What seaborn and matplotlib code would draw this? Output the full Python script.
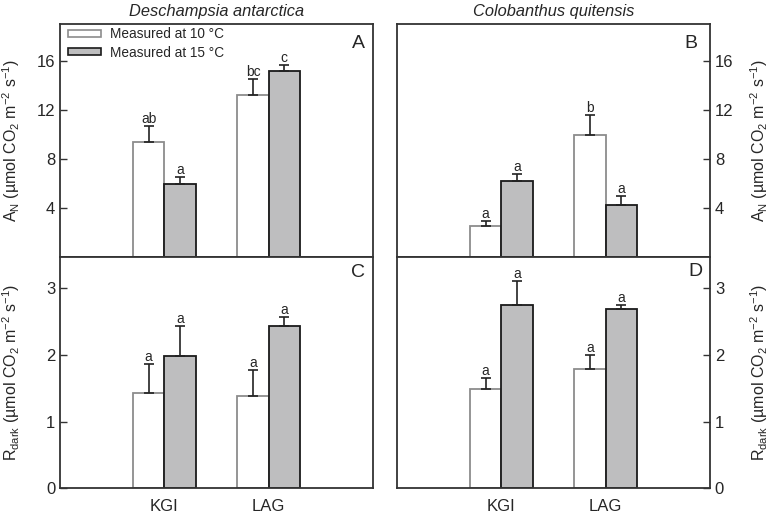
import numpy as np
import pandas as pd
import matplotlib
matplotlib.use("Agg")
import matplotlib.pyplot as plt
import seaborn as sns
from matplotlib.patches import Patch

sns.set_style("ticks")
plt.rcParams['font.family'] = ['Liberation Sans', 'DejaVu Sans']
plt.rcParams['mathtext.fontset'] = 'custom'
plt.rcParams['mathtext.rm'] = 'Liberation Sans'
plt.rcParams['mathtext.it'] = 'Liberation Sans:italic'

sites = ["KGI", "LAG"]
temps = ["Measured at 10 °C", "Measured at 15 °C"]

# net photosynthesis, Deschampsia antarctica
da_an_10 = [9.33, 13.2]
da_an_10_se = [1.31, 1.35]
da_an_15 = [5.93, 15.15]
da_an_15_se = [0.57, 0.49]
da_an_letters_10 = ["ab", "bc"]
da_an_letters_15 = ["a", "c"]

# net photosynthesis, Colobanthus quitensis
cq_an_10 = [2.5, 9.93]
cq_an_10_se = [0.44, 1.67]
cq_an_15 = [6.15, 4.19]
cq_an_15_se = [0.63, 0.73]
cq_an_letters_10 = ["a", "b"]
cq_an_letters_15 = ["a", "a"]

# dark respiration, Deschampsia antarctica
da_rd_10 = [1.435, 1.39]
da_rd_10_se = [0.43, 0.385]
da_rd_15 = [1.975, 2.425]
da_rd_15_se = [0.46, 0.145]
da_rd_letters_10 = ["a", "a"]
da_rd_letters_15 = ["a", "a"]

# dark respiration, Colobanthus quitensis
cq_rd_10 = [1.485, 1.79]
cq_rd_10_se = [0.165, 0.21]
cq_rd_15 = [2.74, 2.685]
cq_rd_15_se = [0.37, 0.065]
cq_rd_letters_10 = ["a", "a"]
cq_rd_letters_15 = ["a", "a"]

an_label = r"A$_\mathrm{N}$ (µmol CO$_2$ m$^{-2}$ s$^{-1}$)"
rd_label = r"R$_\mathrm{dark}$ (µmol CO$_2$ m$^{-2}$ s$^{-1}$)"

fill = {temps[0]: "white", temps[1]: "#bebebf"}
edges = ["#8c8c8c", "#1a1a1a"]
spine_col = "#333333"


def make_df(v10, s10, l10, v15, s15, l15):
    rows = []
    for i, s in enumerate(sites):
        rows.append((s, temps[0], v10[i], s10[i], l10[i]))
    for i, s in enumerate(sites):
        rows.append((s, temps[1], v15[i], s15[i], l15[i]))
    return pd.DataFrame(rows, columns=["site", "temp", "value", "se", "letter"])


panels = [
    (make_df(da_an_10, da_an_10_se, da_an_letters_10, da_an_15, da_an_15_se, da_an_letters_15),
     "A", "left", "top"),
    (make_df(cq_an_10, cq_an_10_se, cq_an_letters_10, cq_an_15, cq_an_15_se, cq_an_letters_15),
     "B", "right", "top"),
    (make_df(da_rd_10, da_rd_10_se, da_rd_letters_10, da_rd_15, da_rd_15_se, da_rd_letters_15),
     "C", "left", "bottom"),
    (make_df(cq_rd_10, cq_rd_10_se, cq_rd_letters_10, cq_rd_15, cq_rd_15_se, cq_rd_letters_15),
     "D", "right", "bottom"),
]

fig = plt.figure(figsize=(7.71, 5.13), dpi=100)

W, H = 771, 513
xpos = {"left": 60 / W, "right": 397 / W}
ypos = {"top": (1 - 256.7 / H, 232.7 / H), "bottom": (1 - 488.3 / H, 231.6 / H)}
letter_pos = {"A": (0.952, 0.918), "B": (0.94, 0.918), "C": (0.952, 0.93), "D": (0.952, 0.938)}

for df, tag, side, row in panels:
    ax = fig.add_axes([xpos[side], ypos[row][0], 313 / W, ypos[row][1]])
    sns.barplot(data=df, x="site", y="value", hue="temp", order=sites, hue_order=temps,
                palette=fill, saturation=1, width=0.6, errorbar=None, legend=False,
                linewidth=1.3, ax=ax)
    bar_conts = list(ax.containers)
    for i, cont in enumerate(bar_conts):
        sub = df[df["temp"] == temps[i]].set_index("site").loc[sites]
        for bar, (_, r) in zip(cont, sub.iterrows()):
            bar.set_edgecolor(edges[i])
            cx = bar.get_x() + bar.get_width() / 2
            top = bar.get_height()
            ax.errorbar(cx, top, yerr=[[0], [r["se"]]], fmt="none", ecolor="#222222",
                        elinewidth=1.2, capsize=3.5, capthick=1.2, zorder=1)
            ax.text(cx, top + r["se"], r["letter"], ha="center", va="bottom", fontsize=10)

    ax.set_xlim(-1, 2)
    if row == "top":
        ax.set_ylim(0, 19)
        ax.set_yticks([4, 8, 12, 16])
        ax.set_xticklabels([])
        ylab = an_label
    else:
        ax.set_ylim(0, 3.47)
        ax.set_yticks([0, 1, 2, 3])
        ylab = rd_label
    ax.set_xlabel("")
    ax.set_ylabel(ylab, fontsize=11.5)
    ax.tick_params(axis="x", length=0, pad=8, labelsize=12)
    ax.tick_params(axis="y", direction="in", length=5, width=1, color=spine_col,
                   labelsize=12, pad=3.5)
    if side == "right":
        ax.yaxis.tick_right()
        ax.yaxis.set_label_position("right")
        ax.yaxis.set_label_coords(1.122, 0.5)
    else:
        ax.yaxis.set_label_coords(-0.122, 0.5)
    for sp in ax.spines.values():
        sp.set_visible(True)
        sp.set_color(spine_col)
        sp.set_linewidth(1.3)
    ax.text(*letter_pos[tag], tag, transform=ax.transAxes, ha="center", va="center",
            fontsize=14)

    if tag == "A":
        ax.set_title("Deschampsia antarctica", style="italic", fontsize=11.8, pad=6)
        handles = [Patch(facecolor=fill[temps[0]], edgecolor=edges[0], linewidth=1.2),
                   Patch(facecolor=fill[temps[1]], edgecolor=edges[1], linewidth=1.2)]
        ax.legend(handles, temps, loc="upper left", bbox_to_anchor=(0.026, 0.985),
                  frameon=False, fontsize=9.8, handlelength=2.4, handleheight=0.45,
                  handletextpad=0.65, labelspacing=0.3, borderpad=0, borderaxespad=0)
    if tag == "B":
        ax.set_title("Colobanthus quitensis", style="italic", fontsize=11.8, pad=6)

plt.savefig("out.png", dpi=100)
plt.close()
